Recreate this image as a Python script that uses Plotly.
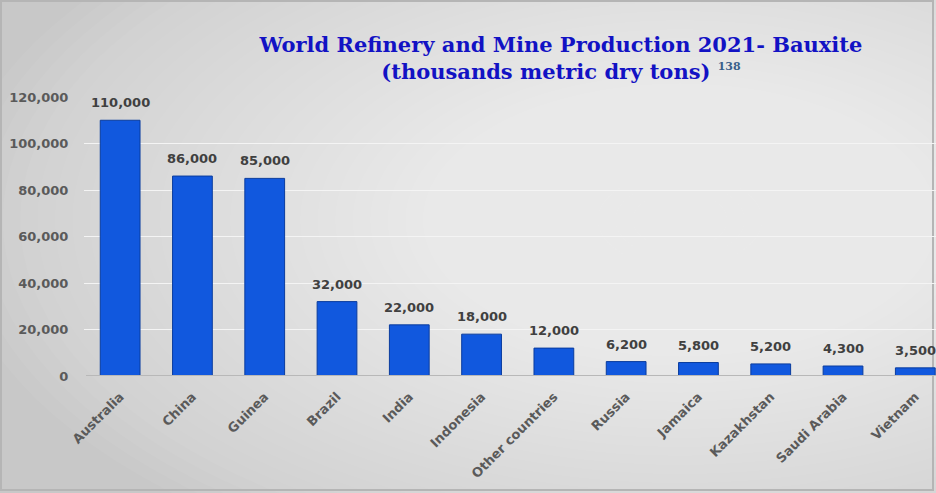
import plotly.graph_objects as go

categories = ["Australia", "China", "Guinea", "Brazil", "India", "Indonesia",
              "Other countries", "Russia", "Jamaica", "Kazakhstan", "Saudi Arabia", "Vietnam"]
production = [110000, 86000, 85000, 32000, 22000, 18000, 12000, 6200, 5800, 5200, 4300, 3500]
y_ticks = [0, 20000, 40000, 60000, 80000, 100000, 120000]

W, H = 936, 493
L, R, T, B = 84, 0, 97, 117
pw, ph = W - L - R, H - T - B

def px2x(px):
    return (px - L) / pw

def px2y(py):
    return (H - B - py) / ph

fig = go.Figure()
fig.add_trace(go.Bar(
    x=list(range(len(categories))), y=production, width=0.55,
    marker=dict(color="#1158DE", line=dict(color="#0A3C9E", width=1)),
    hoverinfo="skip", cliponaxis=False,
))

annotations = []
for i, v in enumerate(production):
    annotations.append(dict(x=i, y=v, xref="x", yref="y", text=f"{v:,}", showarrow=False,
                            yanchor="bottom", yshift=8,
                            font=dict(family="DejaVu Sans", size=13, color="#404040", weight="bold")))

shapes = []
# smooth radial light gradient in the background
cx, cy = 680, 220
n = 40
for k in range(n):
    f = 1 - k / n
    rx, ry = 700 * f + 30, 360 * f + 20
    shapes.append(dict(type="circle", xref="paper", yref="paper", layer="below",
                       x0=px2x(cx - rx), x1=px2x(cx + rx), y0=px2y(cy + ry), y1=px2y(cy - ry),
                       fillcolor="rgba(255,255,255,0.045)", line=dict(width=0)))
# frame
shapes.append(dict(type="rect", xref="paper", yref="paper", layer="below",
                   x0=px2x(1), x1=px2x(933), y0=px2y(490), y1=px2y(1),
                   fillcolor="rgba(0,0,0,0)", line=dict(color="#b5b5b5", width=2)))
# baseline
shapes.append(dict(type="line", xref="paper", yref="y", layer="above",
                   x0=px2x(86), x1=1.0, y0=0, y1=0, line=dict(color="#b8b8b8", width=2)))

fig.update_layout(
    width=W, height=H,
    margin=dict(l=L, r=R, t=T, b=B, pad=0),
    paper_bgcolor="#c8c8c8", plot_bgcolor="rgba(0,0,0,0)",
    showlegend=False,
    title=dict(
        text="World Refinery and Mine Production 2021- Bauxite<br>(thousands metric dry tons) "
             "<sup><span style='color:#3a5f8a;font-size:11px'>138</span></sup>",
        x=561 / W, xanchor="center", xref="container",
        y=1 - 52 / H, yanchor="middle", yref="container",
        font=dict(family="DejaVu Serif", size=21, color="#1212C4", weight="bold"),
    ),
    xaxis=dict(
        tickmode="array", tickvals=list(range(len(categories))), ticktext=categories,
        range=[-0.5, (W - 120) / 72.3], tickangle=-45,
        tickfont=dict(family="DejaVu Sans", size=13, color="#5a5a5a", weight="bold"),
        ticks="outside", ticklen=7, tickcolor="rgba(0,0,0,0)",
        showgrid=False, zeroline=False, showline=False,
    ),
    yaxis=dict(
        range=[0, 120000], tickmode="array", tickvals=y_ticks,
        ticktext=[f"{v:,}" for v in y_ticks],
        tickfont=dict(family="DejaVu Sans", size=13, color="#5a5a5a", weight="bold"),
        ticks="outside", ticklen=12, tickcolor="rgba(0,0,0,0)",
        showgrid=True, gridcolor="#f4f4f4", gridwidth=1,
        zeroline=False, showline=False,
    ),
    annotations=annotations,
    shapes=shapes,
)

fig.write_html("out.html")
